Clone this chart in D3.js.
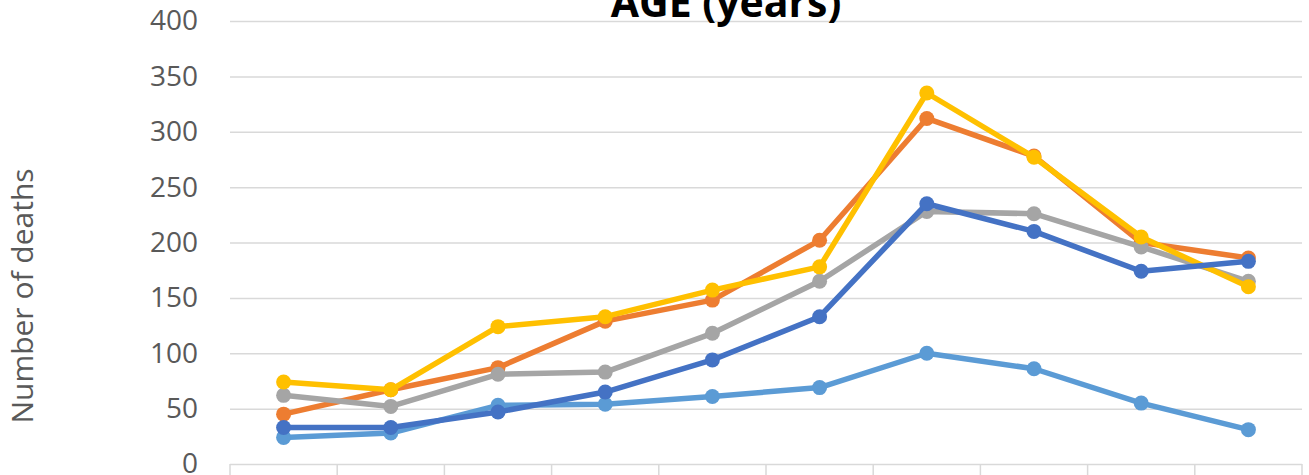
<!DOCTYPE html>
<html>
<head>
<meta charset="utf-8">
<script src="https://cdn.jsdelivr.net/npm/d3@7/dist/d3.min.js"></script>
<style>
  html, body { margin: 0; padding: 0; background: #fff; overflow: hidden; }
  svg { display: block; }
</style>
</head>
<body>
<svg id="chart" width="1309" height="475"></svg>
<script>
// Age bands along the x axis (ten groups)
const categories = ["g1", "g2", "g3", "g4", "g5", "g6", "g7", "g8", "g9", "g10"];

// Deaths per age band, one array per series
const seriesLightBlue = [24, 28, 53, 54, 61, 69, 100, 86, 55, 31];
const seriesOrange    = [45, 67, 87, 129, 148, 202, 312, 278, 200, 186];
const seriesGray      = [62, 52, 81, 83, 118, 165, 228, 226, 196, 165];
const seriesYellow    = [74, 67, 124, 133, 157, 178, 335, 277, 205, 160];
const seriesBlue      = [33, 33, 47, 65, 94, 133, 235, 210, 174, 183];

const yTicks = [0, 50, 100, 150, 200, 250, 300, 350, 400];

const series = [
  { values: seriesLightBlue, color: "#5B9BD5" },
  { values: seriesOrange,    color: "#ED7D31" },
  { values: seriesGray,      color: "#A5A5A5" },
  { values: seriesYellow,    color: "#FFC000" },
  { values: seriesBlue,      color: "#4472C4" }
];

const svg = d3.select("#chart");
const plot = { left: 230, right: 1302, top: 21, bottom: 464 };

const x = d3.scaleBand().domain(categories).range([plot.left, plot.right]);
const y = d3.scaleLinear().domain([0, 400]).range([plot.bottom, plot.top]);

// Horizontal gridlines and value labels
const yAxis = svg.append("g")
  .attr("transform", `translate(${plot.left},0)`)
  .call(d3.axisLeft(y).tickValues(yTicks).tickSize(-(plot.right - plot.left)).tickPadding(32));
yAxis.select(".domain").remove();
yAxis.selectAll(".tick line").attr("stroke", "#d9d9d9").attr("stroke-width", 1.5);
yAxis.selectAll(".tick text")
  .attr("fill", "#595959")
  .style("font-family", "'Open Sans', sans-serif")
  .style("font-size", "28px");

// Category boundary ticks below the baseline
const edges = categories.map(c => x(c)).concat([x.range()[1]]);
svg.append("g").selectAll("line").data(edges).join("line")
  .attr("x1", d => d).attr("x2", d => d)
  .attr("y1", plot.bottom).attr("y2", plot.bottom + 14)
  .attr("stroke", "#d9d9d9").attr("stroke-width", 1.5);

// Lines with round markers
const line = d3.line()
  .x((d, i) => x(categories[i]) + x.bandwidth() / 2)
  .y(d => y(d));

series.forEach(s => {
  const g = svg.append("g");
  g.append("path")
    .datum(s.values)
    .attr("d", line)
    .attr("fill", "none")
    .attr("stroke", s.color)
    .attr("stroke-width", 5.5)
    .attr("stroke-linejoin", "round");
  g.selectAll("circle").data(s.values).join("circle")
    .attr("cx", (d, i) => x(categories[i]) + x.bandwidth() / 2)
    .attr("cy", d => y(d))
    .attr("r", 7.5)
    .attr("fill", s.color);
});

// Chart title
svg.append("text")
  .attr("x", 726).attr("y", 17)
  .attr("text-anchor", "middle")
  .attr("fill", "#000")
  .style("font-family", "'Open Sans', sans-serif")
  .style("font-weight", "bold")
  .style("font-size", "41px")
  .text("AGE (years)");

// Y axis title
svg.append("text")
  .attr("transform", "translate(33,296) rotate(-90)")
  .attr("text-anchor", "middle")
  .attr("fill", "#595959")
  .style("font-family", "'Open Sans', sans-serif")
  .style("font-size", "30px")
  .text("Number of deaths");
</script>
</body>
</html>
